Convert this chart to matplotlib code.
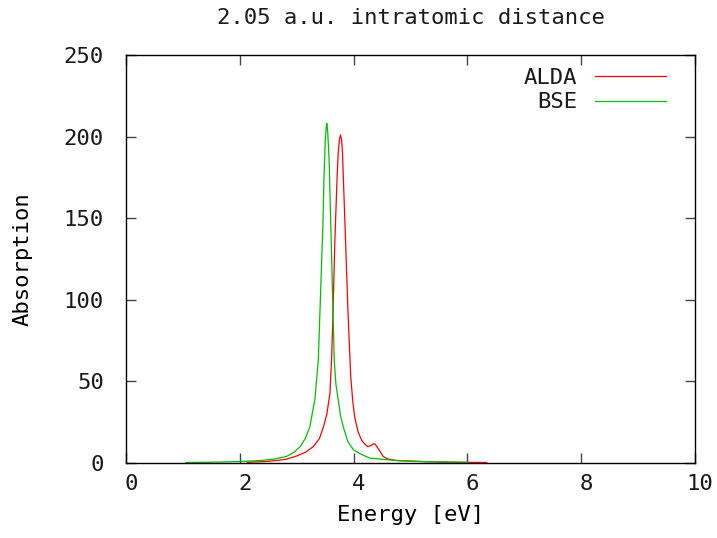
import matplotlib
matplotlib.use('Agg')
from matplotlib import pyplot as plt
from matplotlib.transforms import ScaledTranslation

# ALDA spectrum (energy in eV, absorption)
alda_energy = [2.13, 2.5, 2.8, 3.0, 3.15, 3.29, 3.4, 3.47, 3.53, 3.585, 3.615, 3.64,
               3.67, 3.69, 3.71, 3.73, 3.75, 3.77, 3.79, 3.805, 3.82, 3.84, 3.86,
               3.90, 3.95, 3.985, 4.02, 4.08, 4.14, 4.2, 4.25, 4.31, 4.35, 4.38,
               4.45, 4.52, 4.6, 4.76, 5.0, 5.2, 5.5, 6.0, 6.34]
alda_absorption = [0.4, 1.0, 2.2, 4.3, 6.5, 10, 15, 22, 30, 43, 65, 94,
                   135, 155, 175, 190, 198, 201, 198, 190, 175, 155, 135,
                   94, 53, 38, 28, 19, 14, 11.5, 10, 10.8, 11.8, 11.5,
                   8, 4, 2.5, 1.5, 1.2, 0.9, 0.6, 0.4, 0.3]

# BSE spectrum
bse_energy = [1.05, 1.5, 2.0, 2.4, 2.6, 2.82, 2.95, 3.06, 3.15, 3.23, 3.32, 3.38,
              3.42, 3.44, 3.46, 3.48, 3.50, 3.52, 3.53, 3.545, 3.56, 3.57, 3.585,
              3.60, 3.63, 3.66, 3.69, 3.73, 3.77, 3.82, 3.9, 4.0, 4.15, 4.29,
              4.5, 4.8, 5.2, 5.6, 6.0]
bse_absorption = [0.3, 0.5, 0.9, 1.6, 2.4, 4, 6.5, 10, 15, 22, 39, 63,
                  104, 125, 145, 175, 196, 206, 208, 203, 193, 186, 165,
                  145, 104, 63, 48, 39, 29, 22, 13, 8, 5, 3,
                  2.3, 1.4, 0.9, 0.6, 0.4]

plt.rcParams['font.family'] = ['DejaVu Sans Mono']
plt.rcParams['font.size'] = 16
plt.rcParams['text.color'] = '#1a1a1a'

fig = plt.figure(figsize=(7.17, 5.38), dpi=100)
ax = fig.add_axes([0.1757, 0.1394, 0.7936, 0.7584])

ax.plot(alda_energy, alda_absorption, color='#ff0000', lw=0.9, label='ALDA')
ax.plot(bse_energy, bse_absorption, color='#00c000', lw=0.9, label='BSE')

ax.set_xlim(0, 10)
ax.set_ylim(0, 250)
ax.set_xticks(range(0, 11, 2))
ax.set_yticks(range(0, 251, 50))
ax.tick_params(direction='in', length=7.2, width=1, top=True, right=True,
               colors='#444444', labelcolor='#1a1a1a', labelsize=16)
ax.tick_params(axis='y', pad=16)
ax.tick_params(axis='x', pad=8)
# gnuplot puts x tick labels slightly right of the tick
shift = ScaledTranslation(5 / 100, 0, fig.dpi_scale_trans)
for lbl in ax.get_xticklabels():
    lbl.set_transform(lbl.get_transform() + shift)
for spine in ax.spines.values():
    spine.set_linewidth(1)

ax.set_title('2.05 a.u. intratomic distance', fontsize=16, pad=22)
ax.set_xlabel('Energy [eV]', fontsize=16, labelpad=8)
ax.set_ylabel('Absorption', fontsize=16, labelpad=22)

ax.legend(loc='upper right', bbox_to_anchor=(0.985, 1.017), frameon=False,
          markerfirst=False, handlelength=3.2, handletextpad=0.8,
          labelspacing=0.2, fontsize=16)

fig.savefig('out.png', dpi=100)
